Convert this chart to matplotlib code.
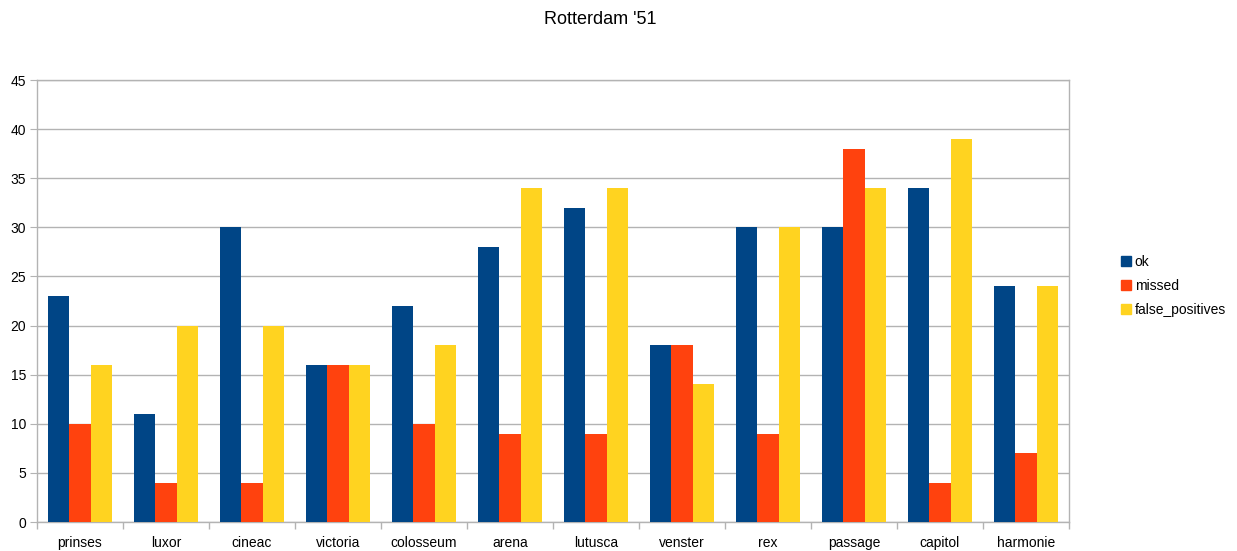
import matplotlib
matplotlib.use("Agg")
import matplotlib.pyplot as plt
import numpy as np
from matplotlib.lines import Line2D

plt.rcParams['font.family'] = ['Liberation Sans', 'DejaVu Sans']

categories = ["prinses", "luxor", "cineac", "victoria", "colosseum", "arena",
              "lutusca", "venster", "rex", "passage", "capitol", "harmonie"]
ok = [23, 11, 30, 16, 22, 28, 32, 18, 30, 30, 34, 24]
missed = [10, 4, 4, 16, 10, 9, 9, 18, 9, 38, 4, 7]
false_positives = [16, 20, 20, 16, 18, 34, 34, 14, 30, 34, 39, 24]
series_names = ["ok", "missed", "false_positives"]
colors = ["#004586", "#ff420e", "#ffd320"]

fig = plt.figure(figsize=(12.37, 5.51), dpi=100)
ax = fig.add_axes([37/1237, 1 - 522/551, (1069-37)/1237, (522-80)/551])

x = np.arange(len(categories))
w = 0.25
for i, (vals, c) in enumerate(zip([ok, missed, false_positives], colors)):
    ax.bar(x + (i - 1) * w, vals, width=w, color=c, zorder=3)

ax.set_xlim(-0.5, len(categories) - 0.5)
ax.set_ylim(0, 45)
ax.set_yticks(np.arange(0, 46, 5))
ax.set_xticks(x)
ax.set_xticklabels(categories, fontsize=10)
ax.set_xticks(np.arange(-0.5, len(categories), 1), minor=True)
ax.tick_params(axis='x', which='major', length=0, pad=10)
ax.tick_params(axis='x', which='minor', length=5, color='#b3b3b3', width=1)
ax.tick_params(axis='y', length=5, color='#b3b3b3', labelsize=10, pad=3)
ax.yaxis.grid(True, color='#b3b3b3', linewidth=1, zorder=0)
for s in ax.spines.values():
    s.set_color('#b3b3b3')
    s.set_linewidth(1)

fig.text(600/1237, 1 - 20/551, "Rotterdam '51", ha='center', va='center', fontsize=13)

handles = [Line2D([0], [0], marker='s', linestyle='', markersize=7,
                  markerfacecolor=c, markeredgecolor=c) for c in colors]
fig.legend(handles, series_names, loc='upper left',
           bbox_to_anchor=(1107/1237, 1 - 242/551), frameon=False,
           fontsize=10, handletextpad=0.1, labelspacing=0.75, handlelength=1.0)

fig.savefig("out.png", dpi=100)
